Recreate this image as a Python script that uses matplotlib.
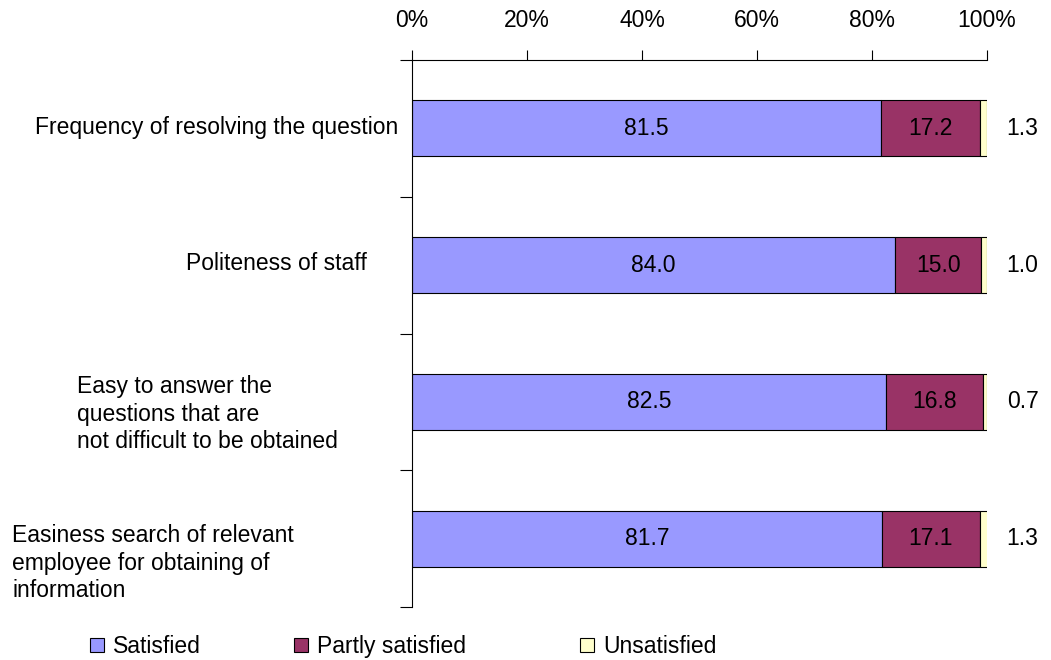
import matplotlib.pyplot as plt
from matplotlib.patches import Patch
from matplotlib.transforms import blended_transform_factory

plt.rcParams['font.family'] = ['Liberation Sans', 'DejaVu Sans']

categories = [
    'Frequency of resolving the question',
    'Politeness of staff',
    'Easy to answer the\nquestions that are\nnot difficult to be obtained',
    'Easiness search of relevant\nemployee for obtaining of\ninformation',
]
satisfied = [81.5, 84.0, 82.5, 81.7]
partly = [17.2, 15.0, 16.8, 17.1]
unsatisfied = [1.3, 1.0, 0.7, 1.3]
series_names = ['Satisfied', 'Partly satisfied', 'Unsatisfied']
colors = ['#9999FF', '#993366', '#FFFFCC']
xticks = [0, 20, 40, 60, 80, 100]

FS = 16.5
# left x (pixels) and vertical shift (category units) of each label block
label_x = [35, 186, 77, 12]
label_dy = [-0.01, -0.01, 0.09, 0.18]
legend_x = [90, 294, 580]

fig = plt.figure(figsize=(10.51, 6.6), dpi=100)
ax = fig.add_axes([412 / 1051, 53 / 660, 575 / 1051, 547 / 660])

ypos = [i + 0.5 for i in range(len(categories))]
h = 0.41
ax.barh(ypos, satisfied, height=h, color=colors[0], edgecolor='black', linewidth=0.8)
ax.barh(ypos, partly, left=satisfied, height=h, color=colors[1], edgecolor='black', linewidth=0.8)
left2 = [a + b for a, b in zip(satisfied, partly)]
ax.barh(ypos, unsatisfied, left=left2, height=h, color=colors[2], edgecolor='black', linewidth=0.8)

for y, s, p, u in zip(ypos, satisfied, partly, unsatisfied):
    ax.text(s / 2, y, f'{s:.1f}', ha='center', va='center', fontsize=FS)
    ax.text(s + p / 2, y, f'{p:.1f}', ha='center', va='center', fontsize=FS)
    ax.text(106.2, y, f'{u:.1f}', ha='center', va='center', fontsize=FS, clip_on=False)

ax.set_xlim(0, 100)
ax.set_ylim(4, 0)
ax.xaxis.tick_top()
ax.set_xticks(xticks)
ax.set_xticklabels([f'{t}%' for t in xticks], fontsize=FS)
ax.tick_params(axis='x', direction='out', length=7, pad=13, width=0.8)
ax.set_yticks([0, 1, 2, 3, 4])
ax.set_yticklabels([])
ax.tick_params(axis='y', direction='out', length=9, width=0.8)
for s in ['right', 'bottom']:
    ax.spines[s].set_visible(False)
for s in ['top', 'left']:
    ax.spines[s].set_linewidth(0.8)

trans = blended_transform_factory(fig.transFigure, ax.transData)
for lx, dy, y, c in zip(label_x, label_dy, ypos, categories):
    ax.text(lx / 1051, y + dy, c, transform=trans, ha='left', va='center',
            fontsize=FS, linespacing=1.24)

# align legend entries by their tops so the baselines line up
for lx, name, c in zip(legend_x, series_names, colors):
    fig.legend([Patch(facecolor=c, edgecolor='black', linewidth=0.8)], [name],
               loc='upper left', bbox_to_anchor=(lx / 1051, 1 - 635 / 660),
               frameon=False, fontsize=FS, handlelength=0.6, handleheight=0.6,
               handletextpad=0.4, borderpad=0, borderaxespad=0)

fig.savefig('out.png', dpi=100)
